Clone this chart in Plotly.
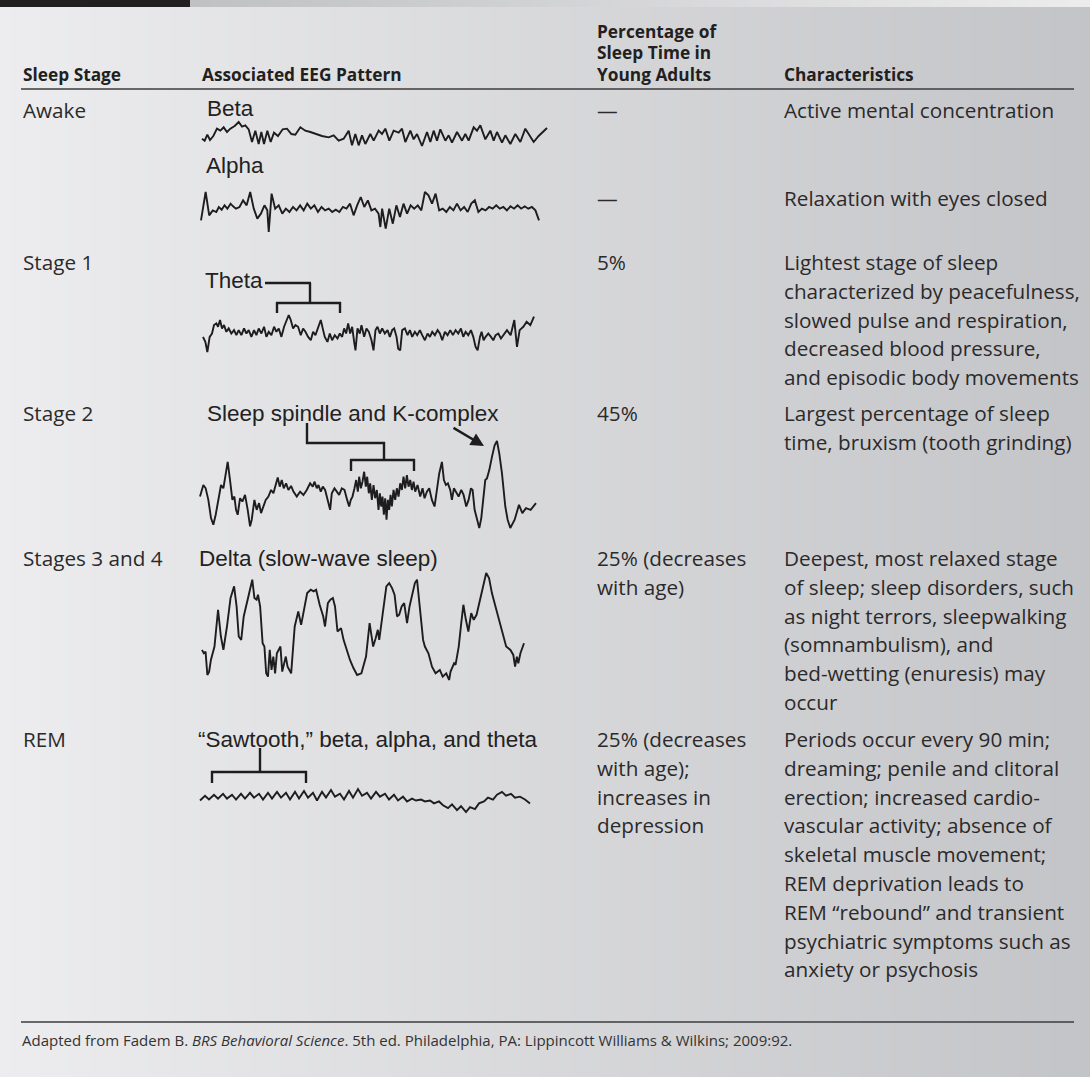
import plotly.graph_objects as go

W, H = 1090, 1077

# ---------------- table content ----------------
HEAD_STAGE = "Sleep Stage"
HEAD_EEG = "Associated EEG Pattern"
HEAD_PCT = ["Percentage of", "Sleep Time in", "Young Adults"]
HEAD_CHAR = "Characteristics"

STAGES = ["Awake", "Stage 1", "Stage 2", "Stages 3 and 4", "REM"]

EEG_LABELS = ["Beta", "Alpha", "Theta", "Sleep spindle and K-complex",
              "Delta (slow-wave sleep)", "\u201cSawtooth,\u201d beta, alpha, and theta"]

PCT_AWAKE = ["\u2014", "\u2014"]
PCT_ROWS = [["5%"], ["45%"], ["25% (decreases", "with age)"],
            ["25% (decreases", "with age);", "increases in", "depression"]]

CHAR_AWAKE = ["Active mental concentration", "Relaxation with eyes closed"]
CHAR_ROWS = [
    ["Lightest stage of sleep", "characterized by peacefulness,", "slowed pulse and respiration,",
     "decreased blood pressure,", "and episodic body movements"],
    ["Largest percentage of sleep", "time, bruxism (tooth grinding)"],
    ["Deepest, most relaxed stage", "of sleep; sleep disorders, such", "as night terrors, sleepwalking",
     "(somnambulism), and", "bed-wetting (enuresis) may", "occur"],
    ["Periods occur every 90 min;", "dreaming; penile and clitoral", "erection; increased cardio-",
     "vascular activity; absence of", "skeletal muscle movement;", "REM deprivation leads to",
     "REM \u201crebound\u201d and transient", "psychiatric symptoms such as", "anxiety or psychosis"],
]

FOOTNOTE = ("Adapted from Fadem B. <i>BRS Behavioral Science</i>. 5th ed. Philadelphia, PA: "
            "Lippincott Williams &amp; Wilkins; 2009:92.")

# ---------------- EEG traces (time, deflection; negative-up convention) ----------------
BETA_T = [50, 58, 66, 74, 84, 95, 105, 115, 125, 135, 148, 160, 170, 180, 190, 200, 210, 220, 228, 236,
          246, 256, 266, 278, 292, 305, 318, 330, 345, 360, 375, 390, 410, 430, 445, 460, 475, 490, 500, 510,
          520, 530, 540, 555, 565, 580, 590, 600, 612, 625, 640, 650, 660, 675, 685, 695, 710, 725, 735, 745,
          755, 765, 780, 790, 800, 815, 830, 840, 850, 865, 875, 885, 900, 915, 925, 935, 950, 960, 975, 990,
          1005, 1020, 1030, 1045, 1060, 1085]
BETA_V = [70, 76, 58, 74, 62, 40, 46, 36, 50, 40, 32, 20, 34, 30, 42, 80, 46, 86, 50, 86,
          46, 80, 52, 62, 42, 40, 56, 58, 36, 46, 50, 56, 62, 66, 60, 76, 70, 46, 90, 56,
          90, 60, 86, 56, 76, 46, 56, 40, 76, 46, 52, 40, 80, 46, 72, 56, 92, 50, 80, 46,
          76, 42, 76, 60, 82, 50, 76, 56, 76, 36, 46, 30, 72, 46, 76, 50, 82, 60, 86, 56,
          80, 40, 56, 80, 62, 38]

ALPHA_T = [562, 575, 585, 595, 605, 612, 620, 628, 636, 645, 652, 660, 670, 680, 690, 700, 710, 720, 730, 740,
           748, 752, 760, 770, 780, 790, 800, 810, 820, 830, 840, 850, 860, 870, 880, 890, 900, 910, 920, 930,
           940, 950, 960, 970, 980, 990, 1000, 1010, 1020, 1030, 1040, 1050, 1060, 1065, 1070, 1080, 1090, 1100,
           1110, 1120, 1130, 1140, 1150, 1160, 1170, 1180, 1190, 1200, 1210, 1220, 1230, 1240, 1250, 1260, 1270,
           1280, 1290, 1300, 1310, 1320, 1330, 1340, 1350, 1360, 1370, 1380, 1390, 1400, 1410, 1420, 1430, 1440,
           1450, 1460, 1470, 1480, 1490, 1500, 1510]
ALPHA_V = [210, 125, 195, 180, 185, 170, 178, 165, 175, 160, 168, 175, 170, 150, 165, 125, 175, 205, 190, 165,
           180, 245, 130, 175, 165, 190, 175, 185, 170, 180, 165, 180, 160, 175, 165, 185, 170, 180, 175, 185,
           178, 185, 170, 175, 160, 195, 165, 140, 170, 150, 180, 175, 190, 230, 175, 235, 175, 220,
           165, 200, 160, 190, 165, 175, 165, 180, 125, 135, 160, 130, 180, 175, 185, 170, 180,
           160, 180, 170, 185, 160, 150, 185, 175, 180, 170, 175, 165, 175, 170, 180, 168, 175,
           165, 175, 168, 175, 170, 180, 210]

THETA_T = [55, 62, 68, 75, 82, 88, 95, 100, 106, 112, 118, 125, 132, 140, 148, 155, 162, 170, 178, 185,
           192, 200, 208, 215, 222, 230, 238, 245, 252, 260, 268, 275, 282, 290, 298, 305, 312, 318, 325, 332,
           340, 348, 355, 362, 370, 378, 385, 392, 400, 408, 415, 420, 428, 435, 442, 450, 458, 465, 472, 478,
           484, 490, 496, 502, 508, 512, 518, 525, 530, 538, 545, 552, 560, 566, 572, 578, 585, 592, 600, 608,
           615, 622, 628, 635, 640, 646, 652, 660, 668, 675, 682, 690, 697, 705, 712, 720, 728, 735, 742, 750,
           758, 765, 772, 780, 788, 796, 804, 812, 820, 828, 835, 842, 850, 858, 865, 872, 878, 885, 890, 896,
           902, 910, 918, 925, 932, 940, 948, 955, 966, 977, 988, 996, 1004, 1015, 1025, 1036, 1047]
THETA_V = [200, 215, 245, 200, 190, 165, 160, 170, 150, 175, 165, 185, 175, 190, 180, 195, 180, 195, 175, 190,
           180, 200, 180, 195, 175, 190, 170, 200, 185, 195, 170, 185, 175, 200, 170, 150, 135, 150, 175, 165,
           170, 195, 175, 185, 200, 210, 185, 195, 170, 150, 180, 200, 215, 190, 210, 195, 205, 190, 200, 175,
           190, 160, 190, 170, 215, 240, 175, 190, 165, 200, 175, 185, 210, 240, 180, 170, 190, 175, 190, 180,
           200, 180, 175, 200, 235, 240, 180, 175, 195, 180, 200, 185, 195, 180, 195, 210, 190, 200, 185, 195,
           180, 190, 210, 185, 195, 180, 195, 180, 190, 175, 200, 185, 195, 180, 200, 230, 240, 200, 185, 210,
           200, 190, 200, 210, 195, 190, 205, 195, 180, 195, 150, 230, 180, 170, 155, 165, 140]

SPINDLE_T = [45, 55, 62, 70, 78, 85, 92, 100, 108, 115, 122, 128, 135, 142, 148, 153, 158, 165, 172, 180,
             188, 195, 200, 208, 215, 222, 228, 235, 242, 250, 258, 265, 272, 278, 284, 290, 296, 303, 310, 318,
             325, 335, 345, 355, 365, 375, 383, 388, 395, 400, 407, 413, 420, 428, 435, 440, 448, 455, 462, 470,
             478, 486, 492, 497, 502, 508, 513, 518, 522, 527, 532, 537, 542, 546, 551, 555, 560, 565, 570, 575,
             580, 584, 588, 592, 596, 600, 604, 608, 612, 616, 620, 625, 630, 635, 640, 645, 650, 655, 660, 665,
             670, 675, 680, 685, 690, 697, 705, 712, 718, 725, 732, 740, 748, 755, 762, 770, 776, 782, 788, 795,
             800, 806, 812, 820, 828, 835, 843, 850, 857, 862, 868, 875, 882, 888, 895, 900, 905, 912, 920, 928,
             935, 942, 950, 955, 960, 967, 975, 988, 1001, 1011, 1022, 1036, 1052]
SPINDLE_V = [290, 255, 265, 300, 355, 375, 345, 300, 255, 265, 215, 185, 240, 300, 290, 330, 345, 295, 305, 285,
             330, 380, 360, 300, 330, 310, 340, 320, 300, 290, 270, 280, 250, 232, 260, 240, 265, 250, 270, 258,
             275, 290, 275, 285, 270, 250, 260, 245, 265, 255, 275, 260, 270, 300, 330, 280, 265, 275, 285, 265,
             270, 300, 320, 300, 290, 265, 240, 275, 230, 265, 245, 215, 260, 230, 280, 250, 300, 255, 295, 270,
             330, 280, 320, 290, 345, 295, 360, 300, 330, 285, 320, 270, 300, 265, 290, 250, 270, 230, 265, 225,
             260, 240, 270, 245, 275, 255, 290, 265, 295, 275, 265, 300, 320, 270, 220, 185, 240, 255, 250, 270,
             300, 265, 275, 290, 270, 285, 320, 300, 265, 270, 330, 360, 385, 355, 280, 240, 235, 210, 170, 135,
             122, 160, 220, 270, 320, 360, 385, 360, 315, 340, 325, 330, 310]

DELTA_T = [565, 570, 575, 580, 585, 590, 600, 610, 618, 625, 635, 645, 655, 662, 668, 675, 682, 690, 700, 706,
           712, 718, 722, 728, 735, 740, 745, 750, 755, 760, 765, 770, 775, 785, 790, 800, 805, 815, 825, 835,
           843, 852, 860, 870, 878, 885, 895, 905, 910, 918, 925, 932, 938, 945, 955, 962, 970, 980, 990, 1000,
           1012, 1025, 1035, 1045, 1052, 1058, 1062, 1068, 1075, 1082, 1090, 1098, 1105, 1112, 1118, 1125, 1132,
           1140, 1147, 1155, 1162, 1168, 1172, 1178, 1185, 1190, 1200, 1210, 1220, 1232, 1240, 1250, 1258, 1262,
           1268, 1272, 1276, 1285, 1292, 1298, 1305, 1312, 1320, 1327, 1335, 1345, 1355, 1362, 1370, 1378, 1388,
           1400, 1410, 1418, 1430, 1438, 1443, 1448, 1452, 1458, 1468]
DELTA_V = [330, 340, 335, 405, 395, 360, 320, 210, 290, 330, 260, 175, 140, 200, 290, 300, 230, 195, 150, 120,
           175, 180, 165, 200, 310, 320, 400, 410, 330, 390, 350, 400, 340, 320, 395, 350, 380, 400, 260, 215,
           255, 200, 160, 150, 155, 150, 195, 230, 260, 190, 180, 175, 200, 275, 265, 300, 330, 360, 385, 405,
           400, 350, 250, 320, 295, 270, 300, 250, 200, 140, 130, 145, 165, 230, 225, 200, 190,
           250, 200, 160, 130, 120, 160, 220, 300, 320, 340, 380, 400, 390, 410, 400, 420, 395,
           380, 370, 375, 320, 250, 195, 240, 275, 220, 240, 225, 180, 135, 100, 115, 160, 200,
           245, 290, 320, 330, 345, 380, 350, 370, 340, 310]

REM_T = [0, 5, 9, 14, 18, 23, 27, 32, 36, 41, 45, 50, 54, 59, 63, 68, 72, 77, 81, 86,
         90, 95, 99, 104, 108, 113, 117, 122, 126, 131, 135, 140, 144, 149, 153, 158, 162, 167, 171, 176,
         180, 185, 189, 194, 198, 203, 207, 212, 216, 221, 225, 230, 234, 239, 243, 248, 252, 257, 261, 266,
         270, 275, 279, 284, 288, 293, 297, 302, 306, 311, 315, 320, 325, 330]
REM_V = [12, 7, 11, 6, 10, 5, 10, 6, 11, 5, 10, 4, 9, 5, 11, 4, 10, 3, 9, 4,
         11, 3, 10, 2, 9, 4, 12, 3, 9, 1, 8, 5, 11, 2, 9, 0, 7, 4, 10, 3,
         8, 5, 11, 6, 12, 8, 13, 10, 12, 11, 13, 12, 15, 13, 17, 20, 16, 22, 18, 24,
         19, 21, 15, 13, 9, 11, 6, 3, 7, 5, 9, 8, 11, 15]

# ---------------- layout geometry (pixels) ----------------
BODY = "Open Sans"
LABEL_FONT = "Liberation Sans"
INK = "#1e1c1d"
TEXT = "#2b2a2b"
BODY_SIZE = 20.7
LINE = 28.8

COL_X = [22, 201, 596, 783]

annotations = []
shapes = []


def X(px):
    return px / W


def Y(py):
    return 1 - py / H


def txt(x, y, s, size=BODY_SIZE, family=BODY, color=TEXT, weight="normal"):
    annotations.append(dict(x=X(x), y=Y(y), xref="paper", yref="paper", text=s, showarrow=False,
                            xanchor="left", yanchor="middle", borderpad=0,
                            font=dict(family=family, size=size, color=color, weight=weight)))


def seg(x0, y0, x1, y1, color=INK, width=2.4):
    shapes.append(dict(type="line", xref="paper", yref="paper", x0=X(x0), y0=Y(y0), x1=X(x1), y1=Y(y1),
                       line=dict(color=color, width=width)))


# background gradient (light left -> darker right)
N = 109
c0, c1 = (237, 237, 239), (195, 196, 199)
for i in range(N):
    f = (i + 0.5) / N
    col = tuple(round(a + (b - a) * f) for a, b in zip(c0, c1))
    shapes.append(dict(type="rect", xref="paper", yref="paper", x0=i / N, x1=(i + 1) / N + 0.001, y0=0, y1=1,
                       fillcolor="rgb(%d,%d,%d)" % col, line=dict(width=0), layer="below"))
# top strip
shapes.append(dict(type="rect", xref="paper", yref="paper", x0=0, x1=X(190), y0=Y(7), y1=1,
                   fillcolor="#231f20", line=dict(width=0), layer="below"))
M = 45
s0, s1 = (192, 193, 195), (236, 236, 237)
for i in range(M):
    f = (i + 0.5) / M
    col = tuple(round(a + (b - a) * f) for a, b in zip(s0, s1))
    xa = 190 + (W - 190) * i / M
    xb = 190 + (W - 190) * (i + 1) / M + 0.5
    shapes.append(dict(type="rect", xref="paper", yref="paper", x0=X(xa), x1=X(xb), y0=Y(7), y1=1,
                       fillcolor="rgb(%d,%d,%d)" % col, line=dict(width=0), layer="below"))

# header
HB = dict(size=17.3, color="#231f20", weight="bold")
txt(COL_X[0], 74, HEAD_STAGE, **HB)
txt(COL_X[1], 74, HEAD_EEG, **HB)
for k, s in enumerate(HEAD_PCT):
    txt(COL_X[2], 31 + k * 21.6, s, **HB)
txt(COL_X[3], 74, HEAD_CHAR, **HB)
seg(21, 89, 1074, 89, color="#3c3b3c", width=1.6)
seg(21, 1022, 1074, 1022, color="#3c3b3c", width=1.6)

# awake row (two sub rows)
txt(COL_X[0], 110, STAGES[0])
for k, yy in enumerate([110, 198]):
    txt(COL_X[2], yy, PCT_AWAKE[k])
    txt(COL_X[3], yy, CHAR_AWAKE[k])

ROW_Y = [262, 413, 558, 739]
for r, y0 in enumerate(ROW_Y):
    txt(COL_X[0], y0, STAGES[r + 1])
    for k, s in enumerate(PCT_ROWS[r]):
        txt(COL_X[2], y0 + k * LINE, s)
    for k, s in enumerate(CHAR_ROWS[r]):
        txt(COL_X[3], y0 + k * LINE, s)

# EEG labels
LBL = dict(size=22.5, family=LABEL_FONT, color="#222222")
txt(206, 109, EEG_LABELS[0], **LBL)
txt(205, 165, EEG_LABELS[1], **LBL)
txt(204, 280, EEG_LABELS[2], **LBL)
txt(206, 413, EEG_LABELS[3], **LBL)
txt(198, 558, EEG_LABELS[4], **LBL)
txt(197, 739, EEG_LABELS[5], **LBL)

# brackets
seg(265, 283, 311, 283); seg(310, 283, 310, 303); seg(276, 303, 341, 303)
seg(277, 302, 277, 313); seg(340, 302, 340, 313)
seg(307, 423, 307, 444); seg(306, 443, 385, 443); seg(384, 442, 384, 460); seg(350, 460, 415, 460)
seg(351, 459, 351, 471); seg(414, 459, 414, 471)
seg(260, 748, 260, 772); seg(211, 772, 307, 772); seg(212, 771, 212, 783); seg(306, 771, 306, 783)
annotations.append(dict(x=X(484), y=Y(446), xref="paper", yref="paper", text="", showarrow=True,
                        ax=-32, ay=-19, axref="pixel", ayref="pixel", arrowhead=2, arrowsize=1.1,
                        arrowwidth=2.4, arrowcolor=INK))

# footnote
txt(21, 1040, FOOTNOTE, size=15, color="#333333")

# ---------------- EEG subplots ----------------
fig = go.Figure()
WAVES = [
    (BETA_T, BETA_V, (202, 547, 122, 146)),
    (ALPHA_T, ALPHA_V, (201, 539, 192, 232)),
    (THETA_T, THETA_V, (203, 534, 315, 352)),
    (SPINDLE_T, SPINDLE_V, (200, 536, 441, 528)),
    (DELTA_T, DELTA_V, (202, 524, 573, 680)),
    (REM_T, REM_V, (200, 530, 789, 812)),
]
PAD = 3
layout_axes = {}
for i, (t, v, (x0, x1, y0, y1)) in enumerate(WAVES, start=2):
    fig.add_trace(go.Scatter(x=t, y=v, mode="lines", line=dict(color=INK, width=1.9),
                             xaxis="x%d" % i, yaxis="y%d" % i, hoverinfo="skip", showlegend=False))
    sx = (max(t) - min(t)) / (x1 - x0)
    sy = (max(v) - min(v)) / (y1 - y0)
    layout_axes["xaxis%d" % i] = dict(domain=[X(x0 - PAD), X(x1 + PAD)],
                                      range=[min(t) - PAD * sx, max(t) + PAD * sx],
                                      visible=False, fixedrange=True, anchor="y%d" % i)
    layout_axes["yaxis%d" % i] = dict(domain=[Y(y1 + PAD), Y(y0 - PAD)],
                                      range=[max(v) + PAD * sy, min(v) - PAD * sy],
                                      visible=False, fixedrange=True, anchor="x%d" % i)

fig.update_layout(
    width=W, height=H, margin=dict(l=0, r=0, t=0, b=0),
    paper_bgcolor="rgb(237,237,239)", plot_bgcolor="rgba(0,0,0,0)",
    xaxis=dict(visible=False), yaxis=dict(visible=False),
    shapes=shapes, annotations=annotations, showlegend=False,
    **layout_axes,
)

fig.write_html("out.html", config={"displayModeBar": False},
               post_script="document.body.style.margin='0';document.body.style.overflow='hidden';")
